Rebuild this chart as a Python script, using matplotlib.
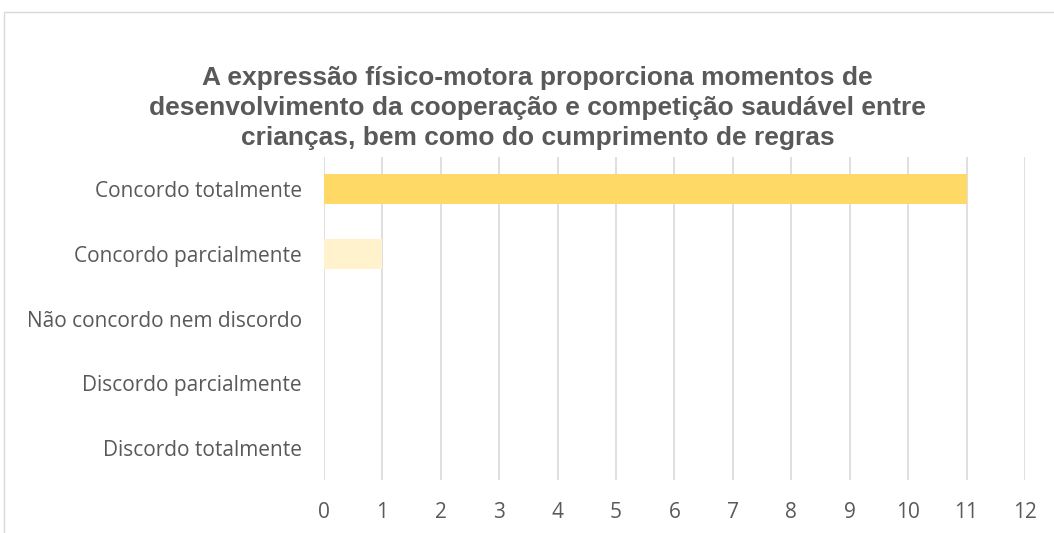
import matplotlib.pyplot as plt
from matplotlib.patches import Rectangle

categories = ["Concordo totalmente", "Concordo parcialmente", "Não concordo nem discordo",
              "Discordo parcialmente", "Discordo totalmente"]
values = [11, 1, 0, 0, 0]
colors = ["#FFD966", "#FFF2CC", "#FFD966", "#FFD966", "#FFD966"]
xticks = list(range(0, 13))
title = ("A expressão físico-motora proporciona momentos de\n"
         "desenvolvimento da cooperação e competição saudável entre\n"
         "crianças, bem como do cumprimento de regras")

fig = plt.figure(figsize=(10.54, 5.33), dpi=100)
fig.patches.append(Rectangle((4 / 1054, -0.1), 1.2, 1 - 12 / 533 + 0.1, transform=fig.transFigure,
                             fill=False, edgecolor="#D9D9D9", linewidth=1.0))

ax = fig.add_axes([0.3074, 0.0994, 0.665, 0.606])
pos = list(range(len(categories)))[::-1]
ax.barh(pos, values, height=0.46, color=colors, zorder=3)

ax.set_xlim(0, 12)
ax.set_ylim(-0.5, 4.5)
ax.set_xticks(xticks)
ax.set_yticks(pos)
ax.set_yticklabels(categories)
ax.grid(axis="x", color="#D9D9D9", linewidth=1.2, zorder=0)
for s in ax.spines.values():
    s.set_visible(False)
ax.tick_params(length=0, colors="#595959", labelsize=15)
ax.tick_params(axis="x", pad=16)
ax.tick_params(axis="y", pad=16)
for lbl in ax.get_xticklabels() + ax.get_yticklabels():
    lbl.set_fontfamily("Open Sans")

fig.text(0.51, 0.798, title, ha="center", va="center", fontsize=19, fontweight="bold",
         color="#595959", family="Liberation Sans", linespacing=1.32)

fig.savefig("out.png", dpi=100)
